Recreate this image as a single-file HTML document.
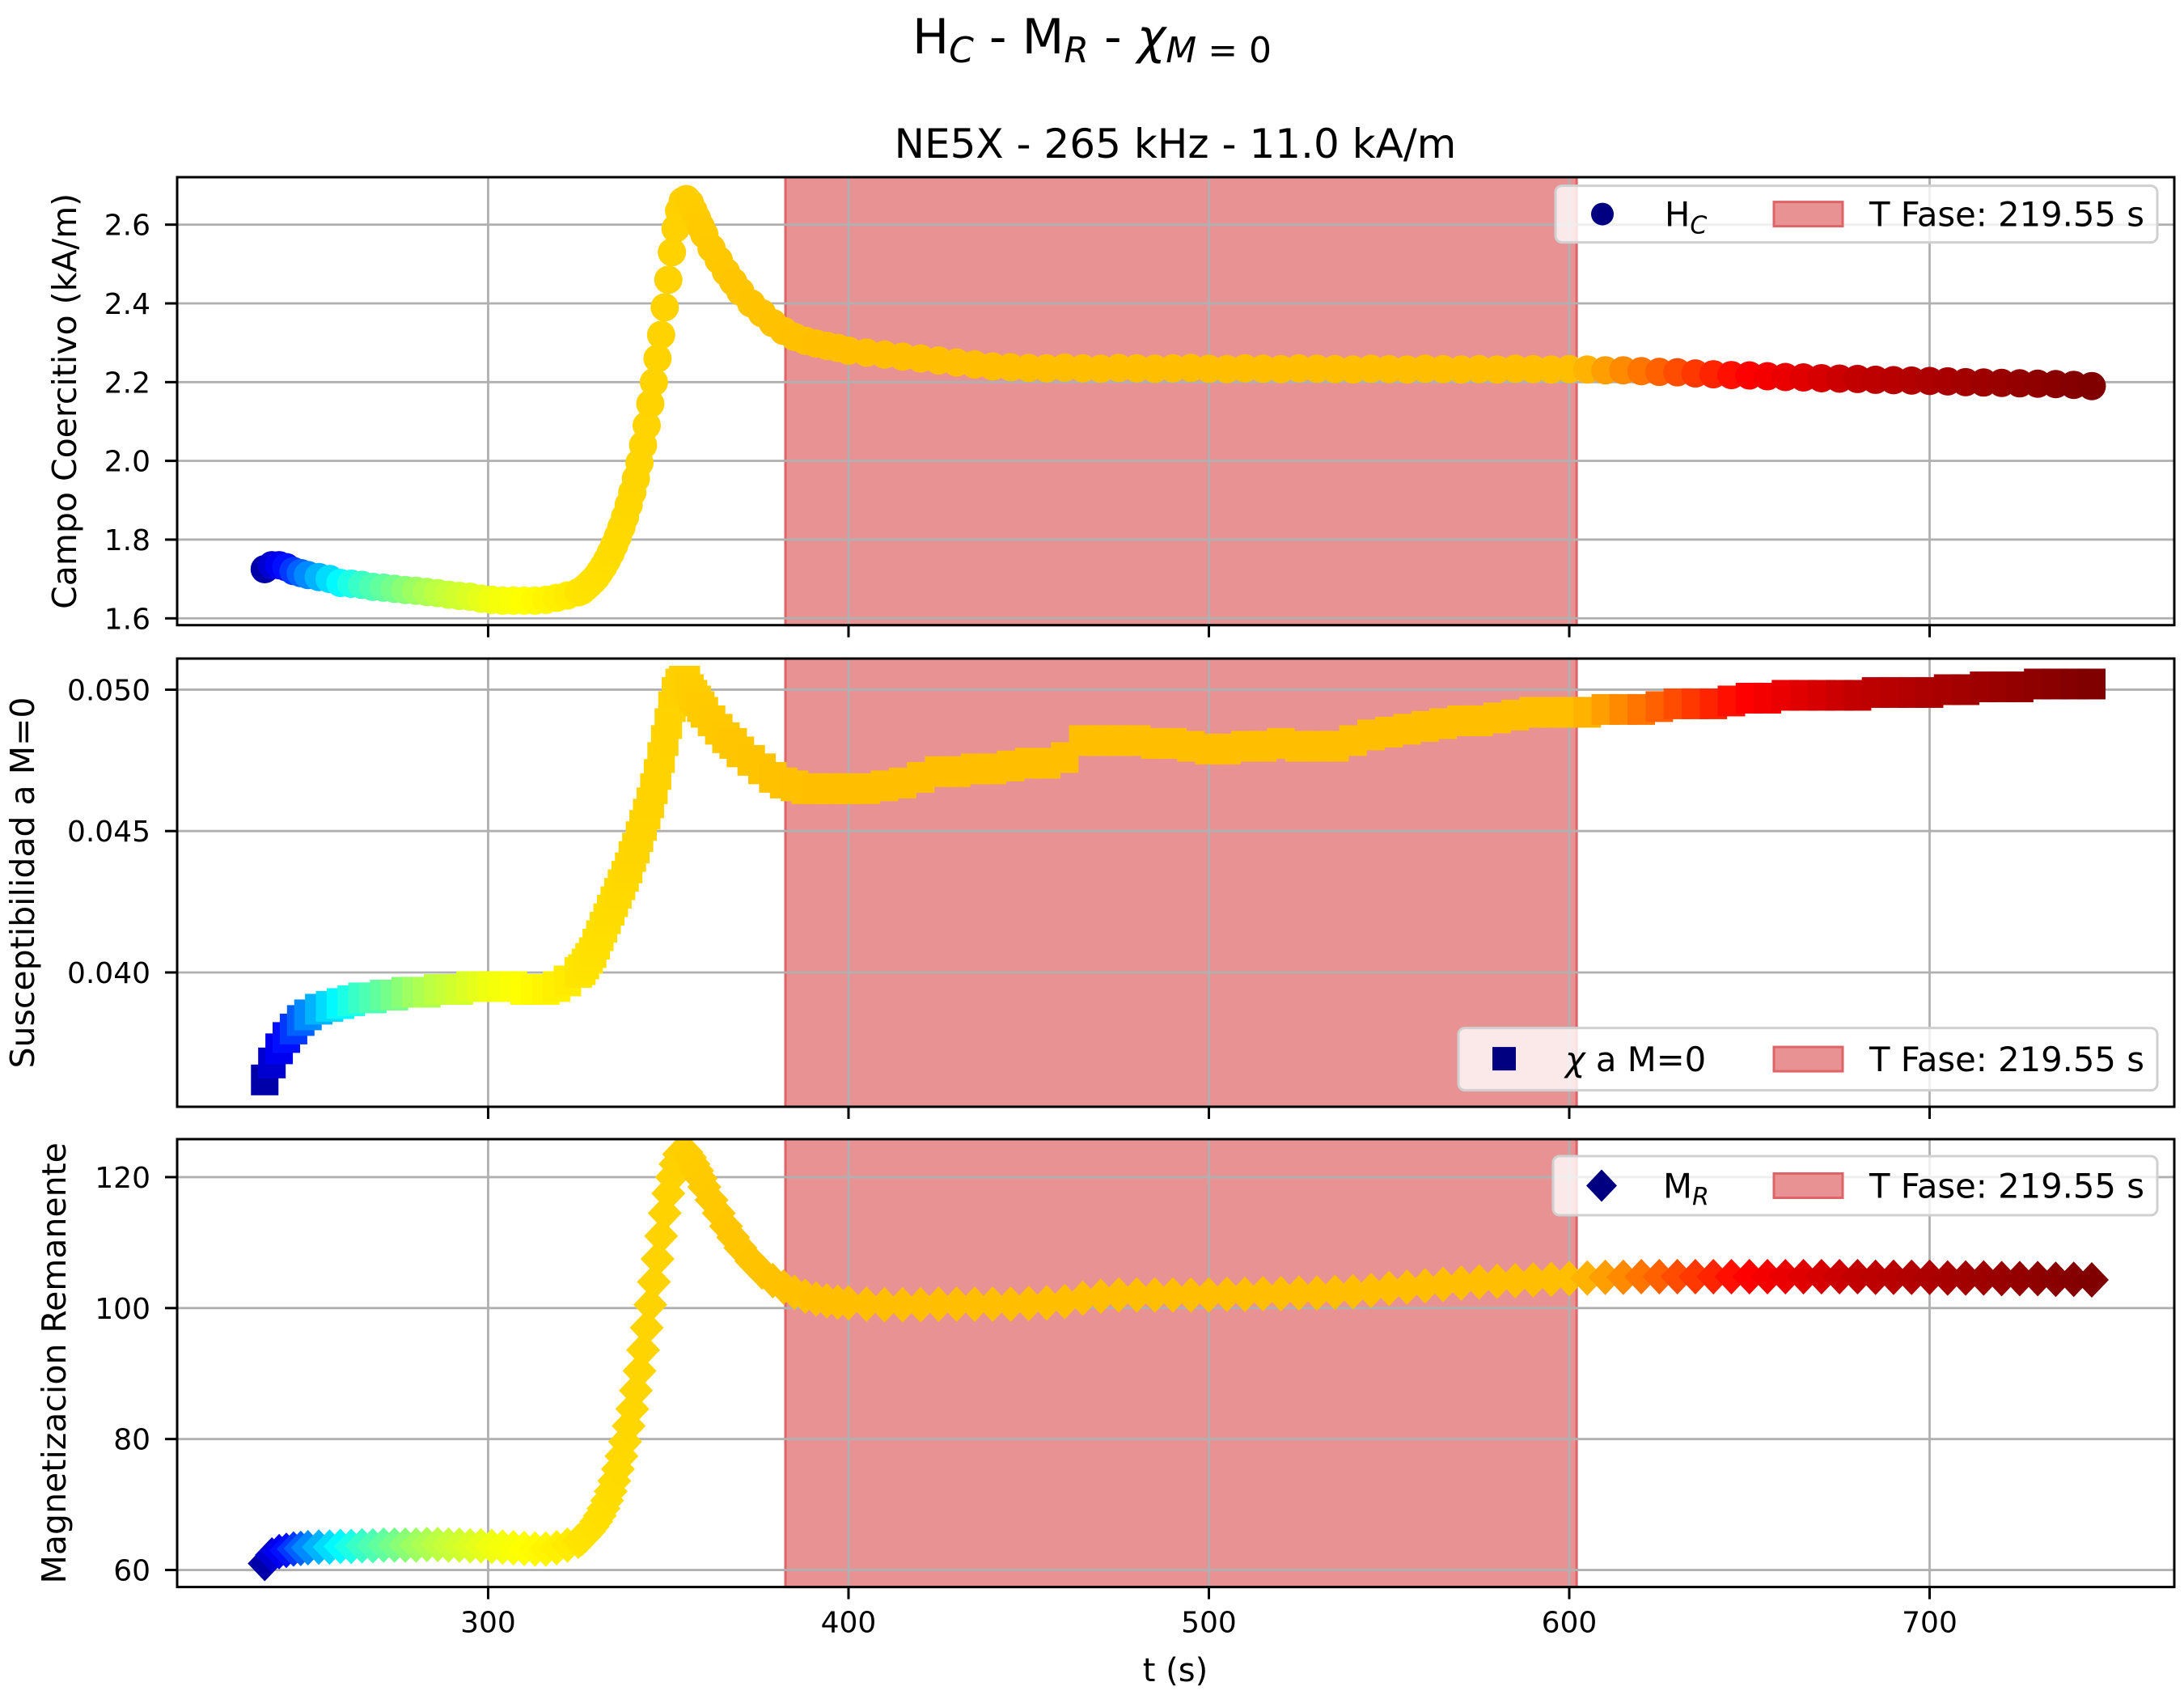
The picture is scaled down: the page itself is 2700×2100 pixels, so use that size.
<!DOCTYPE html>
<html><head><meta charset="utf-8"><style>
html,body{margin:0;padding:0;background:#fff;}
svg{display:block;font-family:"DejaVu Sans","Liberation Sans",sans-serif;}
</style></head><body>
<svg id="fig" width="2700" height="2100" viewBox="0 0 2700 2100" xmlns="http://www.w3.org/2000/svg">
<rect x="0" y="0" width="2700" height="2100" fill="#fff"/>
<text x="1350" y="66" font-size="60" text-anchor="middle">H<tspan font-style="italic" font-size="44" dy="11">C</tspan><tspan dy="-11"> - M</tspan><tspan font-style="italic" font-size="44" dy="11">R</tspan><tspan dy="-11"> - </tspan><tspan font-style="italic">χ</tspan><tspan font-style="italic" font-size="44" dy="11">M</tspan><tspan font-size="44"> = 0</tspan></text>
<text x="1453" y="195" font-size="50" text-anchor="middle">NE5X - 265 kHz - 11.0 kA/m</text>
<text x="1453" y="2078" font-size="40" text-anchor="middle">t (s)</text>
<g id="plots"></g>
</svg>
<script>
const times = [238,240,242,244,246,248,250,253,256,259,262,265,268,271,274,277,280,283,286,289,292,295,298,301,304,307,310,313,316,319,322,325,
326,327,328,329,330,331,332,333,334,335,336,337,338,339,340,341,342,343,344,345,346,347,348,349,350,351,352,353,354,355,356,357,358,359,360,
362,364,366,368,370,373,376,379,382,385,388,391,394,397,
400,405,410,415,420,425,430,435,440,445,450,455,460,465,470,475,480,485,490,495,500,505,510,515,520,525,530,535,540,545,550,555,560,565,570,575,580,585,590,595,600,605,610,615,620,625,630,635,640,645,650,655,660,665,670,675,680,685,690,695,700,705,710,715,720,725,730,735,740,745];
const hcValues = [1.725,1.735,1.735,1.73,1.72,1.715,1.71,
1.705,1.70,1.69,1.688,1.685,1.68,1.678,1.675,1.672,1.67,1.667,1.664,1.66,1.657,1.655,1.65,1.647,1.645,1.645,1.645,1.645,1.647,1.652,1.658,1.666,
1.67,1.678,1.686,1.695,1.705,1.718,1.732,1.748,1.766,1.786,1.808,1.832,1.858,1.888,1.92,1.955,1.995,2.04,2.09,2.145,2.20,2.26,2.32,2.39,2.46,2.53,2.59,2.635,2.66,2.665,2.655,2.635,2.615,2.595,2.575,
2.54,2.51,2.48,2.455,2.43,2.40,2.375,2.35,2.33,2.315,2.305,2.298,2.292,2.287,
2.28,2.275,2.27,2.265,2.26,2.255,2.25,2.245,2.24,2.238,
2.236,2.235,2.237,2.235,2.234,2.236,2.235,2.234,2.235,2.236,2.234,2.233,2.235,2.234,2.233,2.235,2.234,2.233,2.232,2.234,2.233,2.232,2.234,2.233,2.232,2.233,2.232,2.234,2.233,2.232,2.233,
2.232,2.23,2.23,2.228,2.226,2.225,2.222,2.22,2.218,2.217,2.215,2.213,2.212,2.21,2.209,2.208,2.206,2.205,2.204,2.203,2.202,2.2,2.199,2.198,2.197,2.196,2.195,2.193,2.19];
const chiValues = [.0362,.0368,.0373,.0377,.0380,.0383,.0385,
.0387,.0388,.0389,.0390,.0391,.0391,.0392,.0392,.0393,.0393,.0393,.0394,.0394,.0394,.0395,.0395,.0395,.0395,.0395,.0394,.0394,.0394,.0395,.0397,.0400,
.0401,.0403,.0405,.0407,.0410,.0413,.0416,.0419,.0422,.0425,.0428,.0431,.0434,.0437,.0441,.0444,.0448,.0452,.0456,.0460,.0465,.0470,.0476,.0482,.0488,.0494,.0499,.0502,.0503,.0503,.0500,.0498,.0496,.0494,.0492,
.0489,.0486,.0483,.0481,.0478,.0475,.0472,.0469,.0467,.0466,.0465,.0465,.0465,.0465,
.0465,.0465,.0466,.0467,.0469,.0471,.0471,.0472,.0472,.0473,.0474,.0474,.0476,.0482,.0482,.0482,.0482,.0481,.0481,.0480,.0479,.0479,.0480,.0480,.0481,.0480,.0480,.0480,.0482,.0484,.0485,.0486,.0487,.0488,.0489,.0489,.0490,.0491,.0492,.0492,.0492,.0492,.0493,.0493,.0493,.0494,.0495,.0495,.0495,.0496,.0497,.0497,.0498,.0498,.0498,.0498,.0498,.0499,.0499,.0499,.0499,.0500,.0500,.0501,.0501,.0501,.0502,.0502,.0502,.0502];
const mrValues = [61,62.3,62.8,63,63.2,63.3,63.4,
63.5,63.5,63.6,63.6,63.7,63.7,63.8,63.8,63.8,63.8,63.9,63.9,63.8,63.8,63.7,63.7,63.6,63.5,63.4,63.3,63.2,63.2,63.4,63.8,64.4,
64.8,65.3,65.9,66.6,67.4,68.3,69.4,70.6,72,73.6,75.4,77.4,79.6,82,84.6,87.4,90.4,93.6,97,100.5,104,107.5,111,114.5,117.5,120,122,123.5,124,123.8,123,122,121,119.8,118.5,
116.5,114.5,112.5,110.8,109.2,107.2,105.5,104.2,103.2,102.4,101.8,101.4,101.1,100.9,
100.8,100.6,100.5,100.5,100.5,100.6,100.6,100.6,100.6,100.6,100.7,100.8,101,101.5,101.8,102,102,102,102,102,102,102.1,102.1,102.2,102.2,102.3,102.3,102.4,102.5,102.7,103,103.2,103.4,103.6,103.8,104,104.1,104.2,104.3,104.4,104.5,104.6,104.7,104.7,104.8,104.8,104.8,104.8,104.8,104.8,104.8,104.8,104.8,104.8,104.8,104.8,104.8,104.7,104.7,104.7,104.7,104.6,104.6,104.6,104.5,104.5,104.5,104.4,104.4,104.3];
const colorValues = [0.04,0.08,0.11,0.14,0.18,0.22,0.26,
0.30,0.34,0.37,0.40,0.43,0.45,0.47,0.49,0.51,0.53,0.545,0.56,0.57,0.58,0.59,0.60,0.61,0.615,0.62,0.625,0.63,0.635,0.64,0.645,0.65,
0.651,0.652,0.653,0.654,0.655,0.656,0.657,0.658,0.659,0.66,0.661,0.662,0.663,0.664,0.665,0.666,0.666,0.667,0.667,0.668,0.668,0.668,0.668,0.669,0.669,0.669,0.67,0.67,0.671,0.672,0.673,0.674,0.675,0.676,0.677,
0.678,0.679,0.68,0.681,0.682,0.683,0.684,0.685,0.686,0.687,0.687,0.688,0.688,0.688,
0.689,0.689,0.689,0.689,0.689,0.689,0.689,0.689,0.689,0.689,0.689,0.689,0.689,0.689,0.689,0.689,0.689,0.689,0.689,0.689,0.689,0.689,0.689,0.689,0.689,0.689,0.689,0.689,0.689,0.689,0.689,0.689,0.689,0.689,0.689,0.689,0.689,0.689,0.689,0.689,0.689,
0.70,0.72,0.74,0.76,0.78,0.80,0.82,0.84,0.86,0.875,0.885,0.895,0.905,0.915,0.925,0.935,0.94,0.945,0.95,0.955,0.96,0.965,0.97,0.975,0.98,0.985,0.99,0.995,1.0];
const xTicks = [300,400,500,600,700];
const hcTicks = [1.6,1.8,2.0,2.2,2.4,2.6];
const hcTickLabels = ["1.6","1.8","2.0","2.2","2.4","2.6"];
const chiTicks = [0.040,0.045,0.050];
const chiTickLabels = ["0.040","0.045","0.050"];
const mrTicks = [60,80,100,120];
const mrTickLabels = ["60","80","100","120"];
const phaseSpan = [382.5, 602.05];
const legendPhaseLabel = "T Fase: 219.55 s";

const NS = "http://www.w3.org/2000/svg";
const X0 = 219, X1 = 2688, TMIN = 213.7, TMAX = 767.9;
const xs = t => X0 + (t - TMIN) / (TMAX - TMIN) * (X1 - X0);
function jet(v){
  const c = x => Math.max(0, Math.min(1, x));
  const r = c(1.5 - Math.abs(4*v - 3)), g = c(1.5 - Math.abs(4*v - 2)), b = c(1.5 - Math.abs(4*v - 1));
  return `rgb(${Math.round(r*255)},${Math.round(g*255)},${Math.round(b*255)})`;
}
function mk(tag, attrs, parent){
  const e = document.createElementNS(NS, tag);
  for (const k in attrs) e.setAttribute(k, attrs[k]);
  parent.appendChild(e);
  return e;
}
const root = document.getElementById('plots');
const panels = [
  {key:'hc', top:219, bot:772.7, ymin:1.5827, ymax:2.7206, vals:hcValues, ticks:hcTicks, labels:hcTickLabels, marker:'circle', ylabel:'Campo Coercitivo (kA/m)', ylx:80, legend:{x:1923,y:229.6,w:744,h:70}, legText:'H', legSub:'C', legTextX:2058, legMarkerX:1981, xticklabels:false},
  {key:'chi', top:814, bot:1368, ymin:0.03525, ymax:0.0511, vals:chiValues, ticks:chiTicks, labels:chiTickLabels, marker:'square', ylabel:'Susceptibilidad a M=0', ylx:28, legend:{x:1803,y:1270.6,w:864,h:77}, legText:'chi', legTextX:1935, legMarkerX:1860, xticklabels:false},
  {key:'mr', top:1408, bot:1961.6, ymin:57.4, ymax:125.8, vals:mrValues, ticks:mrTicks, labels:mrTickLabels, marker:'diamond', ylabel:'Magnetizacion Remanente', ylx:67, legend:{x:1920,y:1429,w:747,h:73}, legText:'M', legSub:'R', legTextX:2056, legMarkerX:1980, xticklabels:true}
];
panels.forEach(p => {
  const g = mk('g', {}, root);
  
  
  const ys = v => p.bot - (v - p.ymin) / (p.ymax - p.ymin) * (p.bot - p.top);
  const clipId = 'clip-' + p.key;
  const cp = mk('clipPath', {id: clipId}, g);
  mk('rect', {x:X0, y:p.top, width:X1-X0, height:p.bot-p.top}, cp);
  const sh = mk('rect', {x:xs(phaseSpan[0]), y:p.top, width:xs(phaseSpan[1])-xs(phaseSpan[0]), height:p.bot-p.top, fill:'rgb(233,146,148)', stroke:'rgb(222,100,104)', 'stroke-width':3}, g);
  
  
  xTicks.forEach(t => {
    const l = mk('line', {x1:xs(t), x2:xs(t), y1:p.top, y2:p.bot, stroke:'#b0b0b0', 'stroke-width':2.8}, g);
    
    
  });
  p.ticks.forEach(v => {
    const l = mk('line', {x1:X0, x2:X1, y1:ys(v), y2:ys(v), stroke:'#b0b0b0', 'stroke-width':2.8}, g);
    
    
  });
  const dg = mk('g', {'clip-path':`url(#${clipId})`}, g);
  
  
  times.forEach((t, i) => {
    const cx = xs(t), cy = ys(p.vals[i]), col = jet(colorValues[i]);
    let m;
    if (p.marker === 'circle') m = mk('circle', {cx, cy, r:17.5, fill:col}, dg);
    else if (p.marker === 'square') m = mk('rect', {x:cx-17, y:cy-19, width:34, height:38, fill:col}, dg);
    else m = mk('polygon', {points:`${cx},${cy-22} ${cx+21},${cy} ${cx},${cy+22} ${cx-21},${cy}`, fill:col}, dg);
    
    
  });
  const fr = mk('rect', {x:X0, y:p.top, width:X1-X0, height:p.bot-p.top, fill:'none', stroke:'#000', 'stroke-width':3}, g);
  
  
  xTicks.forEach(t => {
    mk('line', {x1:xs(t), x2:xs(t), y1:p.bot, y2:p.bot+15, stroke:'#000', 'stroke-width':3}, g);
    if (p.xticklabels) {
      const tx = mk('text', {x:xs(t), y:p.bot+56, 'font-size':36, 'text-anchor':'middle'}, g);
      tx.textContent = String(t);
      
      
    }
  });
  p.ticks.forEach((v, i) => {
    mk('line', {x1:X0-15, x2:X0, y1:ys(v), y2:ys(v), stroke:'#000', 'stroke-width':3}, g);
    const tx = mk('text', {x:186, y:ys(v)+13, 'font-size':36, 'text-anchor':'end'}, g);
    tx.textContent = p.labels[i];
    
    
  });
  const cy = (p.top + p.bot) / 2;
  const yl = mk('text', {x:p.ylx+14, y:cy, 'font-size':41, 'text-anchor':'middle', transform:`rotate(-90 ${p.ylx+14} ${cy})`}, g);
  yl.textContent = p.ylabel;
  
  
  const L = p.legend;
  const lg = mk('g', {}, g);
  
  
  mk('rect', {x:L.x, y:L.y, width:L.w, height:L.h, rx:8, fill:'rgba(255,255,255,0.8)', stroke:'#d0d0d0', 'stroke-width':3}, lg);
  const my = L.y + L.h/2;
  let lm;
  if (p.marker === 'circle') lm = mk('circle', {cx:p.legMarkerX, cy:my, r:14, fill:'#000080'}, lg);
  if (p.marker === 'square') lm = mk('rect', {x:p.legMarkerX-15, y:my-15, width:29, height:29, fill:'#000080'}, lg);
  if (p.marker === 'diamond') lm = mk('polygon', {points:`${p.legMarkerX},${my-20} ${p.legMarkerX+19},${my} ${p.legMarkerX},${my+20} ${p.legMarkerX-19},${my}`, fill:'#000080'}, lg);
  
  
  const lt = mk('text', {x:p.legTextX, y:my+15, 'font-size':41.7}, lg);
  if (p.legText === 'chi') {
    lt.innerHTML = '<tspan font-style="italic">χ</tspan> a M=0';
  } else {
    lt.innerHTML = p.legText + '<tspan font-style="italic" font-size="30" dy="9">' + p.legSub + '</tspan>';
  }
  
  
  const pr = mk('rect', {x:2193, y:my-15, width:85, height:30, fill:'rgb(233,146,148)', stroke:'rgb(222,100,104)', 'stroke-width':3}, lg);
  
  
  const pt = mk('text', {x:2311, y:my+15, 'font-size':41.7}, lg);
  pt.textContent = legendPhaseLabel;
  
  
});
</script>
</body></html>
